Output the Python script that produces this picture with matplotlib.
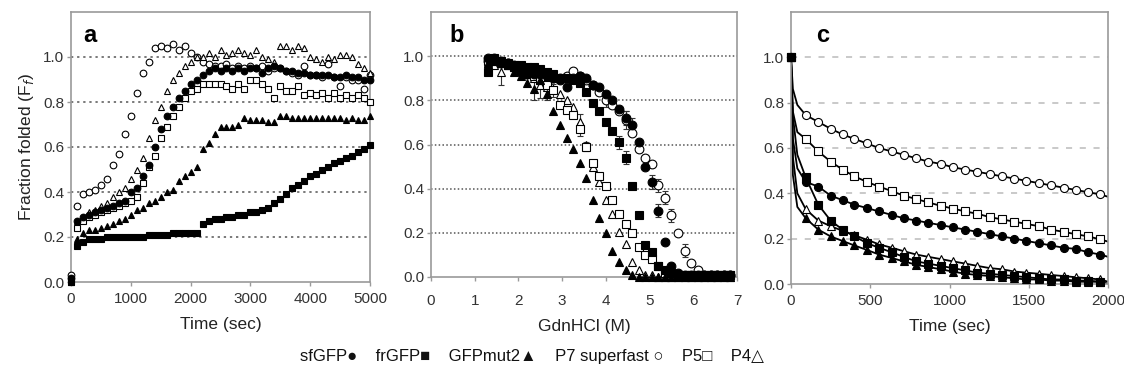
import matplotlib
matplotlib.use("Agg")
import matplotlib.pyplot as plt

plt.rcParams['font.family'] = ['Liberation Sans', 'DejaVu Sans']

# ---- panel a: refolding kinetics (Time, sec) ----
time_a = list(range(0, 5001, 100))
a_sfgfp = [0.02, 0.27, 0.29, 0.30, 0.31, 0.32, 0.33, 0.34, 0.35, 0.36, 0.40,
           0.42, 0.47, 0.52, 0.60, 0.68, 0.74, 0.78, 0.82, 0.85, 0.88,
           0.90, 0.92, 0.94, 0.95, 0.94, 0.95, 0.94, 0.95, 0.94, 0.95,
           0.95, 0.93, 0.95, 0.96, 0.95, 0.94, 0.94, 0.93, 0.93, 0.92,
           0.92, 0.92, 0.92, 0.91, 0.91, 0.92, 0.91, 0.91, 0.90, 0.90]
a_frgfp = [0.00, 0.16, 0.18, 0.19, 0.19, 0.19, 0.20, 0.20, 0.20, 0.20, 0.20,
           0.20, 0.20, 0.21, 0.21, 0.21, 0.21, 0.22, 0.22, 0.22, 0.22,
           0.22, 0.26, 0.27, 0.28, 0.28, 0.29, 0.29, 0.30, 0.30, 0.31,
           0.31, 0.32, 0.33, 0.35, 0.37, 0.39, 0.42, 0.43, 0.45, 0.47,
           0.48, 0.50, 0.51, 0.53, 0.54, 0.55, 0.56, 0.58, 0.59, 0.61]
a_gfpmut2 = [0.00, 0.19, 0.22, 0.23, 0.23, 0.24, 0.25, 0.26, 0.27, 0.28, 0.30,
             0.32, 0.33, 0.35, 0.36, 0.38, 0.40, 0.41, 0.45, 0.47, 0.49,
             0.51, 0.59, 0.62, 0.66, 0.69, 0.69, 0.69, 0.70, 0.73, 0.72,
             0.72, 0.72, 0.71, 0.71, 0.74, 0.74, 0.73, 0.73, 0.73, 0.73,
             0.73, 0.73, 0.73, 0.73, 0.73, 0.72, 0.73, 0.72, 0.72, 0.74]
a_p7 = [0.03, 0.34, 0.39, 0.40, 0.41, 0.43, 0.46, 0.52, 0.57, 0.66, 0.74,
        0.84, 0.93, 0.98, 1.04, 1.05, 1.04, 1.06, 1.03, 1.05, 1.02,
        1.00, 0.98, 0.97, 0.96, 0.96, 0.97, 0.95, 0.96, 0.95, 0.96,
        0.95, 0.96, 0.94, 0.95, 0.95, 0.94, 0.93, 0.92, 0.96, 0.92,
        0.92, 0.91, 0.97, 0.91, 0.87, 0.91, 0.90, 0.90, 0.86, 0.92]
a_p5 = [0.01, 0.24, 0.27, 0.29, 0.30, 0.31, 0.32, 0.33, 0.34, 0.35, 0.36,
        0.38, 0.44, 0.51, 0.56, 0.64, 0.69, 0.74, 0.78, 0.82, 0.85,
        0.86, 0.88, 0.88, 0.88, 0.88, 0.87, 0.86, 0.88, 0.86, 0.90,
        0.90, 0.88, 0.86, 0.82, 0.87, 0.85, 0.85, 0.87, 0.83, 0.84,
        0.83, 0.84, 0.82, 0.84, 0.82, 0.83, 0.82, 0.83, 0.82, 0.80]
a_p4 = [0.02, 0.27, 0.29, 0.31, 0.32, 0.34, 0.35, 0.38, 0.40, 0.42, 0.46,
        0.50, 0.55, 0.64, 0.72, 0.78, 0.85, 0.90, 0.93, 0.96, 0.98,
        1.00, 1.00, 1.02, 1.00, 1.03, 1.01, 1.02, 1.03, 1.02, 1.01,
        1.03, 1.00, 0.99, 0.98, 1.05, 1.05, 1.03, 1.05, 1.04, 1.00,
        0.99, 0.98, 1.00, 0.99, 1.01, 1.01, 1.00, 0.97, 0.95, 0.93]

# ---- panel b: GdnHCl denaturation ----
b_conc = [1.30, 1.45, 1.60, 1.75, 1.90, 2.05, 2.20, 2.35, 2.50, 2.65,
          2.80, 2.95, 3.10, 3.25, 3.40, 3.55, 3.70, 3.85, 4.00, 4.15,
          4.30, 4.45, 4.60, 4.75, 4.90, 5.05, 5.20, 5.35, 5.50, 5.65,
          5.80, 5.95, 6.10, 6.25, 6.40, 6.55, 6.70, 6.85]
b_sfgfp = [0.99, 0.99, 0.98, 0.97, 0.95, 0.93, 0.92, 0.92, 0.92, 0.91,
           0.90, 0.89, 0.86, 0.90, 0.91, 0.90, 0.87, 0.86, 0.83, 0.80,
           0.76, 0.72, 0.69, 0.61, 0.50, 0.43, 0.30, 0.16, 0.05, 0.02,
           0.01, 0.01, 0.01, 0.01, 0.01, 0.01, 0.01, 0.01]
b_sfgfp_err = [0, 0, 0, 0, 0, 0, 0, 0, 0, 0,
               0, 0, 0, 0, 0, 0, 0, 0, 0, 0,
               0, 0.03, 0.03, 0, 0, 0.03, 0.03, 0, 0, 0,
               0, 0, 0, 0, 0, 0, 0, 0]
b_frgfp = [0.93, 0.99, 0.98, 0.97, 0.96, 0.96, 0.95, 0.95, 0.94, 0.93,
           0.92, 0.90, 0.90, 0.89, 0.88, 0.84, 0.79, 0.75, 0.70, 0.66,
           0.61, 0.54, 0.41, 0.28, 0.145, 0.115, 0.05, 0.03, 0.02, 0.01,
           0.01, 0.01, 0.01, 0.01, 0.01, 0.01, 0.01, 0.01]
b_frgfp_err = [0, 0, 0, 0, 0, 0, 0, 0, 0, 0,
               0, 0, 0, 0, 0, 0, 0, 0, 0, 0,
               0.03, 0.03, 0, 0, 0, 0, 0, 0, 0, 0,
               0, 0, 0, 0, 0, 0, 0, 0]
b_gfpmut2 = [0.97, 0.98, 0.97, 0.96, 0.93, 0.91, 0.88, 0.85, 0.89, 0.83,
             0.75, 0.69, 0.63, 0.58, 0.515, 0.45, 0.35, 0.265, 0.20, 0.12,
             0.07, 0.03, 0.01, 0.00, 0.00, 0.00, 0.00, 0.00, 0.00, 0.00,
             0.00, 0.00, 0.00, 0.00, 0.00, 0.00, 0.00, 0.00]
b_gfpmut2_err = [0, 0, 0, 0, 0, 0, 0, 0.05, 0, 0.03,
                 0, 0, 0, 0, 0, 0, 0, 0, 0, 0,
                 0, 0, 0, 0, 0, 0, 0, 0, 0, 0,
                 0, 0, 0, 0, 0, 0, 0, 0]
b_p7 = [0.98, 0.98, 0.97, 0.97, 0.96, 0.95, 0.93, 0.92, 0.92, 0.91,
        0.90, 0.90, 0.91, 0.935, 0.91, 0.89, 0.87, 0.84, 0.80, 0.78,
        0.75, 0.71, 0.65, 0.58, 0.54, 0.51, 0.415, 0.36, 0.28, 0.20,
        0.12, 0.065, 0.03, 0.01, 0.01, 0.01, 0.01, 0.01]
b_p7_err = [0, 0, 0, 0, 0, 0, 0, 0, 0, 0,
            0, 0, 0, 0, 0, 0, 0, 0, 0.03, 0,
            0, 0.04, 0, 0, 0, 0, 0.03, 0.03, 0.03, 0,
            0.03, 0, 0, 0, 0, 0, 0, 0]
b_p5 = [0.98, 0.98, 0.97, 0.96, 0.95, 0.94, 0.93, 0.91, 0.89, 0.87,
        0.846, 0.78, 0.756, 0.733, 0.668, 0.59, 0.514, 0.457, 0.41, 0.35,
        0.285, 0.24, 0.20, 0.137, 0.10, 0.08, 0.05, 0.02, 0.01, 0.01,
        0.01, 0.01, 0.01, 0.01, 0.01, 0.01, 0.01, 0.01]
b_p5_err = [0, 0, 0, 0, 0, 0, 0, 0, 0, 0,
            0.03, 0, 0, 0, 0.03, 0.02, 0, 0, 0, 0,
            0, 0, 0, 0, 0, 0, 0, 0, 0, 0,
            0, 0, 0, 0, 0, 0, 0, 0]
b_p4 = [0.97, 0.96, 0.93, 0.96, 0.95, 0.94, 0.92, 0.90, 0.87, 0.86,
        0.85, 0.83, 0.80, 0.77, 0.70, 0.60, 0.50, 0.43, 0.35, 0.285,
        0.205, 0.15, 0.07, 0.03, 0.01, 0.01, 0.00, 0.00, 0.00, 0.00,
        0.00, 0.00, 0.00, 0.00, 0.00, 0.00, 0.00, 0.00]
b_p4_err = [0, 0, 0.06, 0, 0, 0, 0, 0, 0.06, 0,
            0, 0, 0, 0, 0.04, 0, 0, 0, 0, 0,
            0, 0, 0, 0, 0, 0, 0, 0, 0, 0,
            0, 0, 0, 0, 0, 0, 0, 0]

# ---- panel c: unfolding kinetics ----
time_c = [0, 93, 172, 250, 325, 400, 480, 555, 635, 710, 790, 865, 945,
          1020, 1100, 1175, 1255, 1330, 1410, 1485, 1565, 1640, 1720,
          1795, 1875, 1950]
c_p7 = [1.0, 0.745, 0.715, 0.685, 0.66, 0.64, 0.62, 0.60, 0.585, 0.57,
        0.555, 0.54, 0.53, 0.515, 0.505, 0.495, 0.485, 0.475, 0.465,
        0.455, 0.445, 0.435, 0.425, 0.415, 0.405, 0.395]
c_p5 = [1.0, 0.64, 0.585, 0.54, 0.505, 0.475, 0.45, 0.43, 0.41, 0.39,
        0.375, 0.36, 0.345, 0.333, 0.32, 0.31, 0.295, 0.285, 0.275,
        0.265, 0.255, 0.24, 0.23, 0.22, 0.21, 0.197]
c_sfgfp = [1.0, 0.45, 0.43, 0.39, 0.37, 0.35, 0.335, 0.32, 0.305, 0.29,
           0.28, 0.27, 0.26, 0.25, 0.24, 0.23, 0.22, 0.21, 0.20, 0.19,
           0.18, 0.17, 0.16, 0.155, 0.14, 0.13]
c_frgfp = [1.0, 0.47, 0.35, 0.28, 0.24, 0.21, 0.18, 0.16, 0.14, 0.12,
           0.10, 0.09, 0.08, 0.07, 0.06, 0.05, 0.045, 0.04, 0.035, 0.03,
           0.025, 0.02, 0.02, 0.015, 0.015, 0.01]
c_gfpmut2 = [1.0, 0.29, 0.24, 0.21, 0.19, 0.17, 0.15, 0.13, 0.115, 0.10,
             0.085, 0.075, 0.065, 0.055, 0.045, 0.04, 0.035, 0.03, 0.025,
             0.02, 0.02, 0.015, 0.015, 0.01, 0.01, 0.01]
c_p4 = [1.0, 0.33, 0.28, 0.255, 0.235, 0.215, 0.195, 0.175, 0.16, 0.145,
        0.13, 0.12, 0.11, 0.10, 0.09, 0.08, 0.07, 0.065, 0.055, 0.05,
        0.045, 0.04, 0.035, 0.03, 0.025, 0.02]
# early part of the fitted curves (t = 12 and 40 s)
c_fit_t = [12, 40]
c_fit_p7 = [0.86, 0.79]
c_fit_p5 = [0.76, 0.67]
c_fit_sfgfp = [0.64, 0.51]
c_fit_frgfp = [0.74, 0.57]
c_fit_gfpmut2 = [0.48, 0.34]
c_fit_p4 = [0.56, 0.40]

legend_text = "sfGFP\u25CF    frGFP\u25A0    GFPmut2\u25B2    P7 superfast \u25CB    P5\u25A1    P4\u25B3"

# marker styles: (marker, facecolor)
styles = {
    'sfgfp': ('o', 'black'),
    'frgfp': ('s', 'black'),
    'gfpmut2': ('^', 'black'),
    'p7': ('o', 'white'),
    'p5': ('s', 'white'),
    'p4': ('^', 'white'),
}

W, H = 1124, 375
fig = plt.figure(figsize=(W / 100, H / 100), dpi=100)
ax_a = fig.add_axes([71 / W, 1 - 282 / H, 299 / W, 270 / H])
ax_b = fig.add_axes([431 / W, 1 - 277 / H, 306 / W, 265 / H])
ax_c = fig.add_axes([791 / W, 1 - 284 / H, 317 / W, 272 / H])

spine_col = '#9a9a9a'
text_col = '#333333'


def style_axes(ax, xlim, xticks, grid_ls, grid_col, xpad):
    ax.set_xlim(*xlim)
    ax.set_ylim(0, 1.2)
    ax.set_xticks(xticks)
    ax.set_yticks([0, 0.2, 0.4, 0.6, 0.8, 1.0])
    ax.set_yticklabels(['0.0', '0.2', '0.4', '0.6', '0.8', '1.0'])
    for s in ax.spines.values():
        s.set_color(spine_col)
        s.set_linewidth(1.2)
    ax.tick_params(axis='both', colors=spine_col, labelcolor=text_col,
                   labelsize=11, length=3, width=1)
    ax.tick_params(axis='x', pad=xpad)
    ax.tick_params(axis='y', pad=2)
    for v in [0.2, 0.4, 0.6, 0.8, 1.0]:
        ax.axhline(v, color=grid_col, linestyle=grid_ls, linewidth=1.1, zorder=0)


def scatter(ax, x, y, key, ms=4.5, err=None):
    m, fc = styles[key]
    if err is not None:
        xs = [xi for xi, e in zip(x, err) if e > 0]
        ys = [yi for yi, e in zip(y, err) if e > 0]
        es = [e for e in err if e > 0]
        ax.errorbar(xs, ys, yerr=es, fmt='none', ecolor='#333333',
                    elinewidth=0.8, capsize=2.5, capthick=0.8, zorder=2)
    ax.plot(x, y, linestyle='none', marker=m, markersize=ms, markerfacecolor=fc,
            markeredgecolor='black', markeredgewidth=0.8, clip_on=False, zorder=3)


# panel a
style_axes(ax_a, (0, 5000), [0, 1000, 2000, 3000, 4000, 5000], (0, (1.5, 2.5)), '#555555', 4)
for key, vals in [('p7', a_p7), ('p4', a_p4), ('p5', a_p5), ('sfgfp', a_sfgfp),
                  ('gfpmut2', a_gfpmut2), ('frgfp', a_frgfp)]:
    scatter(ax_a, time_a, vals, key, ms=4.8)
ax_a.set_xlabel('Time (sec)', fontsize=12.5, color='#222222', labelpad=8)
ax_a.set_ylabel('Fraction folded (F$_f$)', fontsize=12.5, color='#222222', labelpad=5)
ax_a.text(0.04, 0.955, 'a', transform=ax_a.transAxes, fontsize=17,
          fontweight='bold', va='top', ha='left')

# panel b
style_axes(ax_b, (0, 7), [0, 1, 2, 3, 4, 5, 6, 7], (0, (1, 1.5)), '#555555', 9)
for key, vals, err in [('p7', b_p7, b_p7_err), ('p4', b_p4, b_p4_err),
                       ('p5', b_p5, b_p5_err), ('sfgfp', b_sfgfp, b_sfgfp_err),
                       ('frgfp', b_frgfp, b_frgfp_err),
                       ('gfpmut2', b_gfpmut2, b_gfpmut2_err)]:
    scatter(ax_b, b_conc, vals, key, ms=6.3, err=err)
ax_b.set_xlabel('GdnHCl (M)', fontsize=12.5, color='#222222', labelpad=8)
ax_b.text(0.06, 0.955, 'b', transform=ax_b.transAxes, fontsize=17,
          fontweight='bold', va='top', ha='left')

# panel c
style_axes(ax_c, (0, 2000), [0, 500, 1000, 1500, 2000], (0, (4, 5)), '#bbbbbb', 4)
for key, vals, fit in [('p7', c_p7, c_fit_p7), ('p5', c_p5, c_fit_p5),
                       ('sfgfp', c_sfgfp, c_fit_sfgfp), ('frgfp', c_frgfp, c_fit_frgfp),
                       ('p4', c_p4, c_fit_p4), ('gfpmut2', c_gfpmut2, c_fit_gfpmut2)]:
    lx = [time_c[0]] + c_fit_t + time_c[1:] + [2000]
    ly = [vals[0]] + fit + vals[1:] + [vals[-1] - 0.01]
    ax_c.plot(lx, ly, color='black', linewidth=1.3, zorder=2)
for key, vals in [('p7', c_p7), ('p5', c_p5), ('sfgfp', c_sfgfp),
                  ('p4', c_p4), ('frgfp', c_frgfp), ('gfpmut2', c_gfpmut2)]:
    scatter(ax_c, time_c, vals, key, ms=5.8)
ax_c.set_xlabel('Time (sec)', fontsize=12.5, color='#222222', labelpad=8)
ax_c.text(0.08, 0.955, 'c', transform=ax_c.transAxes, fontsize=17,
          fontweight='bold', va='top', ha='left')

fig.text(0.473, 0.05, legend_text, fontsize=12, ha='center', va='center',
         color='#111111')

fig.savefig('out.png', dpi=100)
